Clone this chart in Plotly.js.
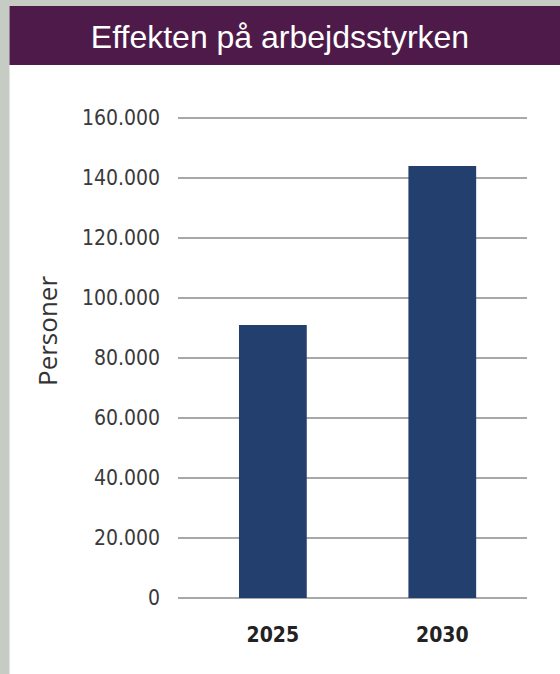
<!DOCTYPE html>
<html>
<head>
<meta charset="utf-8">
<script src="https://cdn.plot.ly/plotly-3.0.1.min.js"></script>
<style>
html,body{margin:0;padding:0;background:#ffffff;}
#chart{width:560px;height:674px;}
</style>
</head>
<body>
<div id="chart"></div>
<script>
// Data
const years = ["2025", "2030"];
const persons = [91000, 144000];
const yTickVals = [0, 20000, 40000, 60000, 80000, 100000, 120000, 140000, 160000];
const yTickText = ["0", "20.000", "40.000", "60.000", "80.000", "100.000", "120.000", "140.000", "160.000"];
const chartTitle = "Effekten på arbejdsstyrken";
const yTitle = "Personer";

const W = 560, H = 674;
const M = {l: 178, r: 33, t: 116, b: 76};
const pw = W - M.l - M.r, ph = H - M.t - M.b;
const px = v => (v - M.l) / pw;          // pixel x -> paper x
const py = v => (H - M.b - v) / ph;      // pixel y -> paper y

const trace = {
  type: "bar",
  x: years,
  y: persons,
  width: 0.4,
  marker: {color: "#233f6d", line: {width: 0}},
  hoverinfo: "skip"
};

const layout = {
  width: W,
  height: H,
  margin: M,
  paper_bgcolor: "#ffffff",
  plot_bgcolor: "#ffffff",
  showlegend: false,
  title: {
    text: chartTitle,
    font: {family: "Liberation Sans, Arial, sans-serif", size: 32, color: "#ffffff"},
    x: 0.5, xanchor: "center", xref: "container",
    y: 1 - 37 / H, yanchor: "middle", yref: "container"
  },
  xaxis: {
    type: "category",
    range: [-0.56, 1.5],
    showgrid: false,
    zeroline: false,
    showline: false,
    ticks: "",
    ticklabelstandoff: 22,
    tickfont: {family: "DejaVu Sans Condensed, DejaVu Sans, sans-serif", size: 21, color: "#222222", weight: "bold"},
    fixedrange: true
  },
  yaxis: {
    range: [0, 160700],
    tickvals: yTickVals,
    ticktext: yTickText,
    showgrid: true,
    gridcolor: "#a8a8a8",
    gridwidth: 1.5,
    zeroline: true,
    zerolinecolor: "#a8a8a8",
    zerolinewidth: 1.5,
    showline: false,
    ticks: "",
    ticklabelstandoff: 17,
    tickfont: {family: "DejaVu Sans Condensed, DejaVu Sans, sans-serif", size: 21, color: "#3a3a3a"},
    fixedrange: true
  },
  annotations: [{
    text: yTitle,
    xref: "paper", yref: "paper",
    x: px(47), y: py(331),
    xanchor: "center", yanchor: "middle",
    textangle: -90,
    showarrow: false,
    font: {family: "Open Sans, sans-serif", size: 26, color: "#333333"}
  }],
  shapes: [
    // left grey frame strip
    {type: "rect", xref: "paper", yref: "paper", layer: "below",
     x0: px(0), x1: px(9.5), y0: py(H), y1: py(0),
     fillcolor: "#c6cbc4", line: {width: 0}},
    // top grey frame strip
    {type: "rect", xref: "paper", yref: "paper", layer: "below",
     x0: px(0), x1: px(W), y0: py(6), y1: py(0),
     fillcolor: "#c6cbc4", line: {width: 0}},
    // purple title band
    {type: "rect", xref: "paper", yref: "paper", layer: "below",
     x0: px(9.5), x1: px(W), y0: py(65), y1: py(6),
     fillcolor: "#4e1a4a", line: {width: 0}}
  ]
};

Plotly.newPlot("chart", [trace], layout, {displayModeBar: false, staticPlot: true});
</script>
</body>
</html>
